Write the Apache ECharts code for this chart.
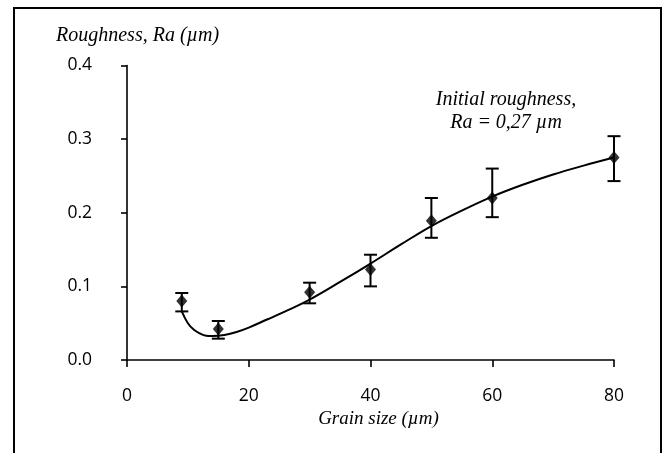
<!DOCTYPE html>
<html>
<head>
<meta charset="utf-8">
<script src="https://cdn.jsdelivr.net/npm/echarts@6/dist/echarts.min.js"></script>
<style>
  html, body { margin: 0; padding: 0; background: #fff; }
  #chart { width: 666px; height: 453px; }
</style>
</head>
<body>
<div id="chart"></div>
<script>
// ---- data ----
const grainSize   = [9, 15, 30, 40, 50, 60, 80];
const roughness   = [0.080, 0.042, 0.092, 0.123, 0.189, 0.220, 0.275];
const errLow      = [0.066, 0.029, 0.077, 0.100, 0.166, 0.194, 0.243];
const errHigh     = [0.091, 0.053, 0.105, 0.143, 0.220, 0.260, 0.304];
const fitX        = [9, 10, 11, 12, 13, 14, 16, 18, 20, 23, 26, 30, 35, 40, 45, 50, 55, 60, 65, 70, 75, 80];
const fitY        = [0.066, 0.050, 0.041, 0.036, 0.033, 0.0325, 0.034, 0.038, 0.044, 0.055, 0.066, 0.082, 0.106, 0.131, 0.157, 0.182, 0.203, 0.222, 0.238, 0.252, 0.264, 0.275];
const xTicks      = [0, 20, 40, 60, 80];
const yTicks      = ['0.0', '0.1', '0.2', '0.3', '0.4'];
const yTitle      = 'Roughness, Ra (µm)';
const xTitle      = 'Grain size (µm)';
const noteLines   = ['Initial roughness,', 'Ra = 0,27 µm'];

const chart = echarts.init(document.getElementById('chart'), null, { renderer: 'canvas' });

const serif = '"Liberation Serif", "DejaVu Serif", serif';
const sans = '"Open Sans", "DejaVu Sans", sans-serif';

const points = grainSize.map((x, i) => [x, roughness[i]]);
const bars = grainSize.map((x, i) => [x, errLow[i], errHigh[i]]);
const fit = fitX.map((x, i) => [x, fitY[i]]);

chart.setOption({
  animation: false,
  backgroundColor: '#fff',
  grid: { left: 127, right: 52, top: 65.5, bottom: 93, containLabel: false },
  xAxis: {
    type: 'value', min: xTicks[0], max: xTicks[xTicks.length - 1], interval: 20,
    axisLine: { show: true, onZero: false, lineStyle: { color: '#000', width: 1.6 } },
    axisTick: { show: true, length: 7, lineStyle: { color: '#000', width: 1.6 } },
    splitLine: { show: false },
    axisLabel: { color: '#000', fontFamily: sans, fontSize: 17.5, margin: 27 },
    name: xTitle, nameLocation: 'middle', nameGap: 48,
    nameTextStyle: { color: '#000', fontFamily: serif, fontStyle: 'italic', fontSize: 19, padding: [0, 0, 0, 16] }
  },
  yAxis: {
    type: 'value', min: 0, max: 0.4, interval: 0.1,
    axisLine: { show: true, lineStyle: { color: '#000', width: 1.6 } },
    axisTick: { show: true, length: 6, lineStyle: { color: '#000', width: 1.6 } },
    splitLine: { show: false },
    axisLabel: {
      color: '#000', fontFamily: sans, fontSize: 17.5, margin: 35,
      padding: [11, 0, 0, 0],
      formatter: (v) => yTicks[Math.round(v * 10)]
    }
  },
  graphic: [
    { type: 'rect', silent: true, z: 100,
      shape: { x: 14, y: 8, width: 647, height: 470 },
      style: { fill: 'none', stroke: '#000', lineWidth: 2 } },
    { type: 'text', left: 56, top: 26, z: 100,
      style: { text: yTitle, fill: '#000', font: 'italic 20px ' + serif } },
    { type: 'text', z: 100, x: 506, y: 88,
      style: { text: noteLines.join('\n'), fill: '#000', font: 'italic 20px ' + serif,
               align: 'center', lineHeight: 23 } }
  ],
  series: [
    {
      type: 'line', data: fit, smooth: 0.4, showSymbol: false, symbol: 'none',
      lineStyle: { color: '#000', width: 2 }, z: 2, silent: true
    },
    {
      type: 'custom', data: bars, z: 3, silent: true,
      encode: { x: 0, y: [1, 2] },
      renderItem: function (params, api) {
        const x = api.value(0);
        const lo = api.coord([x, api.value(1)]);
        const hi = api.coord([x, api.value(2)]);
        const hw = 6.5;
        const st = { stroke: '#000', lineWidth: 2 };
        return {
          type: 'group',
          children: [
            { type: 'line', shape: { x1: hi[0], y1: hi[1], x2: lo[0], y2: lo[1] }, style: st },
            { type: 'line', shape: { x1: hi[0] - hw, y1: hi[1], x2: hi[0] + hw, y2: hi[1] }, style: st },
            { type: 'line', shape: { x1: lo[0] - hw, y1: lo[1], x2: lo[0] + hw, y2: lo[1] }, style: st }
          ]
        };
      }
    },
    {
      type: 'scatter', data: points, symbol: 'diamond', symbolSize: [11, 13], z: 4,
      itemStyle: { color: '#000' }, silent: true
    }
  ]
});
</script>
</body>
</html>
